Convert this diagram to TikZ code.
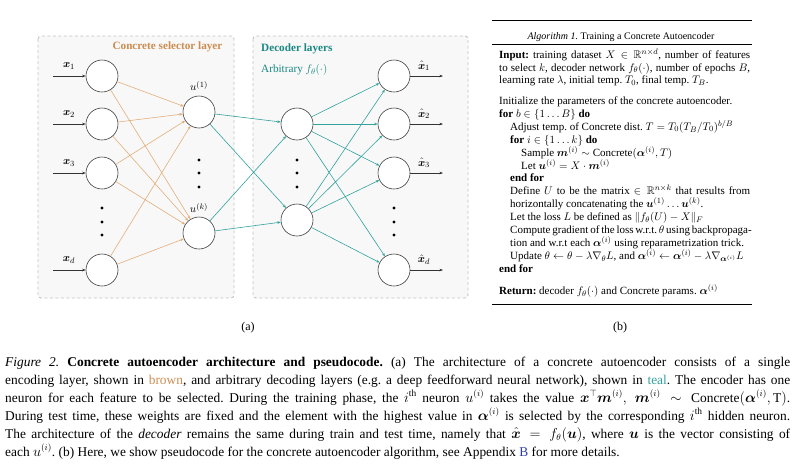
\documentclass[tikz,border=0pt]{standalone}
\usepackage{fontspec}
\setmainfont{Liberation Serif}
\usepackage{amsmath,amssymb,bm}
\usetikzlibrary{arrows.meta}
\definecolor{sel}{RGB}{205,140,80}
\definecolor{seledge}{RGB}{225,170,115}
\definecolor{dec}{RGB}{25,135,130}
\definecolor{decedge}{RGB}{50,162,158}
\definecolor{boxfill}{RGB}{248,248,248}
\definecolor{boxline}{RGB}{195,195,195}
\definecolor{linkblue}{RGB}{45,60,170}
\tikzset{
  panel/.style={draw=boxline, fill=boxfill, line width=0.9pt, dash pattern=on 3pt off 2.5pt, rounded corners=3pt},
  neuron/.style={circle, draw=black!75, line width=0.6pt, fill=white, minimum size=32pt, inner sep=0pt},
  oedge/.style={draw=seledge, line width=0.55pt, -{Stealth[length=3.5pt,width=2.6pt]}},
  tedge/.style={draw=decedge, line width=0.6pt, -{Stealth[length=3.5pt,width=2.6pt]}},
  iedge/.style={draw=black!80, line width=0.6pt, -{Stealth[length=3.5pt,width=2.6pt]}},
  lab/.style={inner sep=0pt, font=\fontsize{11}{13}\selectfont},
  algline/.style={anchor=base west, inner sep=0pt, text height=8.5pt, text depth=3pt, font=\fontsize{11}{13}\selectfont},
  captext/.style={anchor=base west, inner sep=0pt, text height=10.5pt, text depth=3.5pt, font=\fontsize{13.4}{17}\selectfont},
  dotf/.style={fill=black},
}
\frenchspacing
\begin{document}
\begin{tikzpicture}[x=1pt,y=-1pt]
\useasboundingbox (0,0) rectangle (800,467);
% panels
\draw[panel] (38,36) rectangle (234,298);
\draw[panel] (253,36) rectangle (468,298);
% titles
\node[inner sep=0pt, text=sel, font=\fontsize{11.2}{13}\selectfont\bfseries] (tsel) at (167.5,47) {Concrete selector layer};
\node[inner sep=0pt, anchor=west, text=dec, font=\fontsize{11.2}{13}\selectfont\bfseries] (tdec) at (261,49) {Decoder layers};
\node[inner sep=0pt, anchor=west, text=dec, font=\fontsize{11.2}{13}\selectfont] (tarb) at (261,70) {Arbitrary $f_\theta(\cdot)$};
% neurons
\node[neuron] (x1) at (102,76) {};
\node[neuron] (x2) at (102,124) {};
\node[neuron] (x3) at (102,173) {};
\node[neuron] (xd) at (102,270) {};
\node[neuron] (u1) at (199,112) {};
\node[neuron] (uk) at (199,233) {};
\node[neuron] (h1) at (297,124) {};
\node[neuron] (h2) at (297,220) {};
\node[neuron] (y1) at (394,76) {};
\node[neuron] (y2) at (394,124) {};
\node[neuron] (y3) at (394,173) {};
\node[neuron] (yd) at (394,270) {};
% dots
\foreach \yy in {208,222,235} {\fill[dotf] (102,\yy) circle (1.6); \fill[dotf] (394,\yy) circle (1.6);}
\foreach \yy in {160,173,187} {\fill[dotf] (199,\yy) circle (1.6); \fill[dotf] (297,\yy) circle (1.6);}
% inputs
\coordinate (i1) at (53,76);
\coordinate (i2) at (53,124);
\coordinate (i3) at (53,173);
\coordinate (id) at (53,270);
\coordinate (o1) at (443,76);
\coordinate (o2) at (443,124);
\coordinate (o3) at (443,173);
\coordinate (od) at (443,270);
\draw[iedge] (i1) -- (x1);
\draw[iedge] (i2) -- (x2);
\draw[iedge] (i3) -- (x3);
\draw[iedge] (id) -- (xd);
\draw[iedge] (y1) -- (o1);
\draw[iedge] (y2) -- (o2);
\draw[iedge] (y3) -- (o3);
\draw[iedge] (yd) -- (od);
\node[lab] (lx1) at (69,66) {$\bm{x}_1$};
\node[lab] (lx2) at (69,114) {$\bm{x}_2$};
\node[lab] (lx3) at (69,163) {$\bm{x}_3$};
\node[lab] (lxd) at (69,260) {$\bm{x}_d$};
\node[lab] (ly1) at (424,66) {$\hat{\bm{x}}_1$};
\node[lab] (ly2) at (424,114) {$\hat{\bm{x}}_2$};
\node[lab] (ly3) at (424,163) {$\hat{\bm{x}}_3$};
\node[lab] (lyd) at (424,260) {$\hat{\bm{x}}_d$};
\node[lab] (lu1) at (199,86) {$u^{(1)}$};
\node[lab] (luk) at (199,208) {$u^{(k)}$};
% selector edges
\foreach \s in {x1,x2,x3,xd} {\draw[oedge] (\s) -- (u1); \draw[oedge] (\s) -- (uk);}
% decoder edges
\draw[tedge] (u1) -- (h1);
\draw[tedge] (u1) -- (h2);
\draw[tedge] (uk) -- (h1);
\draw[tedge] (uk) -- (h2);
\foreach \t in {y1,y2,y3,yd} {\draw[tedge] (h1) -- (\t); \draw[tedge] (h2) -- (\t);}
% sub labels
\node[inner sep=0pt, font=\fontsize{12}{14}\selectfont] (suba) at (248,328) {(a)};
\node[inner sep=0pt, font=\fontsize{12}{14}\selectfont] (subb) at (620,328) {(b)};
% algorithm
\coordinate (r1a) at (492,20); \coordinate (r1b) at (752,20);
\coordinate (r2a) at (492,44.5); \coordinate (r2b) at (752,44.5);
\coordinate (r3a) at (492,304); \coordinate (r3b) at (752,304);
\draw[line width=0.8pt] (r1a) -- (r1b);
\draw[line width=0.4pt] (r2a) -- (r2b);
\draw[line width=0.6pt] (r3a) -- (r3b);
\node[inner sep=0pt, font=\fontsize{10}{12}\selectfont] (atitle) at (621,37.5) {\textit{Algorithm 1.} Training a Concrete Autoencoder};
\node[algline] (a1) at (499,58.5) {\makebox[251pt][s]{\textbf{Input:} training dataset $X \in \mathbb{R}^{n\times d}$, number of features}};
\node[algline] (a2) at (499,71) {\makebox[251pt][s]{to select $k$, decoder network $f_\theta(\cdot)$, number of epochs $B$,}};
\node[algline] (a3) at (499,83.5) {learning rate $\lambda$, initial temp. $T_0$, final temp. $T_B$.};
\node[algline] (a4) at (499,104.5) {Initialize the parameters of the concrete autoencoder.};
\node[algline] (a5) at (499,117.4) {\textbf{for} $b \in \{1\ldots B\}$ \textbf{do}};
\node[algline] (a6) at (510,130.3) {Adjust temp. of Concrete dist. $T = T_0(T_B/T_0)^{b/B}$};
\node[algline] (a7) at (510,143.2) {\textbf{for} $i \in \{1\ldots k\}$ \textbf{do}};
\node[algline] (a8) at (521,156.1) {Sample $\bm{m}^{(i)} \sim \text{Concrete}(\bm{\alpha}^{(i)}, T)$};
\node[algline] (a9) at (521,169) {Let $\bm{u}^{(i)} = X \cdot \bm{m}^{(i)}$};
\node[algline] (a10) at (510,181.9) {\textbf{end for}};
\node[algline] (a11) at (510,194.8) {\makebox[240pt][s]{Define $U$ to be the matrix $\in \mathbb{R}^{n\times k}$ that results from}};
\node[algline] (a12) at (510,207.7) {horizontally concatenating the $\bm{u}^{(1)}\ldots\bm{u}^{(k)}$.};
\node[algline] (a13) at (510,220.6) {Let the loss $L$ be defined as $\|f_\theta(U) - X\|_F$};
\node[algline] (a14) at (510,233.5) {\makebox[240pt][s]{Compute gradient of the loss w.r.t. $\theta$ using backpropaga-}};
\node[algline] (a15) at (510,246.4) {tion and w.r.t each $\bm{\alpha}^{(i)}$ using reparametrization trick.};
\node[algline] (a16) at (510,259.3) {Update $\theta \leftarrow \theta - \lambda\nabla_\theta L$, and $\bm{\alpha}^{(i)} \leftarrow \bm{\alpha}^{(i)} - \lambda\nabla_{\bm{\alpha}^{(i)}} L$};
\node[algline] (a17) at (499,272.2) {\textbf{end for}};
\node[algline] (a18) at (499,294.5) {\textbf{Return:} decoder $f_\theta(\cdot)$ and Concrete params. $\bm{\alpha}^{(i)}$};
% caption
\node[captext] (c1) at (5,366) {\makebox[785pt][s]{\textit{Figure 2.} \textbf{Concrete autoencoder architecture and pseudocode.} (a) The architecture of a concrete autoencoder consists of a single}};
\node[captext] (c2) at (5,384) {\makebox[785pt][s]{encoding layer, shown in \textcolor{sel}{brown}, and arbitrary decoding layers (e.g. a deep feedforward neural network), shown in \textcolor{decedge}{teal}. The encoder has one}};
\node[captext] (c3) at (5,402) {\makebox[785pt][s]{neuron for each feature to be selected. During the training phase, the $i^{\text{th}}$ neuron $u^{(i)}$ takes the value $\bm{x}^\top \bm{m}^{(i)},\ \bm{m}^{(i)} \sim \text{Concrete}(\bm{\alpha}^{(i)}, \mathrm{T})$.}};
\node[captext] (c4) at (5,420) {\makebox[785pt][s]{During test time, these weights are fixed and the element with the highest value in $\bm{\alpha}^{(i)}$ is selected by the corresponding $i^{\text{th}}$ hidden neuron.}};
\node[captext] (c5) at (5,438) {\makebox[785pt][s]{The architecture of the \textit{decoder} remains the same during train and test time, namely that $\hat{\bm{x}} = f_\theta(\bm{u})$, where $\bm{u}$ is the vector consisting of}};
\node[captext] (c6) at (5,456) {each $u^{(i)}$. (b) Here, we show pseudocode for the concrete autoencoder algorithm, see Appendix \textcolor{linkblue}{B} for more details.};
\end{tikzpicture}
\end{document}
